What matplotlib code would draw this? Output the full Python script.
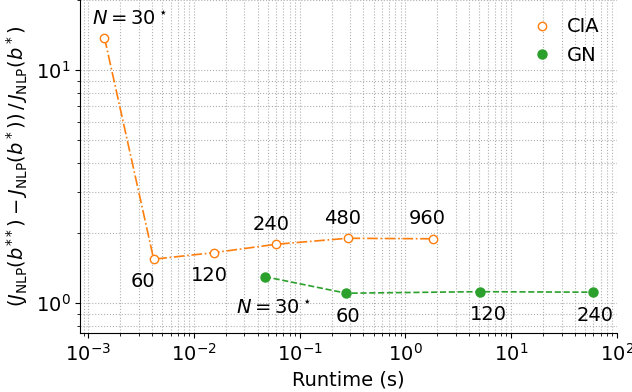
import numpy as np
import matplotlib
matplotlib.use("Agg")
import matplotlib.pyplot as plt
from matplotlib.lines import Line2D
from matplotlib.ticker import NullFormatter

# runtime (s) and relative cost gap for each horizon length N
cia_N = [30, 60, 120, 240, 480, 960]
cia_runtime = [1.42e-3, 4.15e-3, 0.0155, 0.0594, 0.284, 1.82]
cia_gap = [13.8, 1.545, 1.649, 1.79, 1.90, 1.89]

gn_N = [30, 60, 120, 240]
gn_runtime = [0.0468, 0.275, 5.05, 58.9]
gn_gap = [1.30, 1.104, 1.121, 1.115]

# label offsets in points relative to each marker
cia_offsets = [(18, 12.5), (-8, -16), (-3.5, -16.5), (-3.5, 14), (-4, 14), (-4, 14.5)]
gn_offsets = [(6.5, -23.5), (1.5, -17), (6, -16.5), (1.5, -16.5)]

plt.rcParams["font.size"] = 14

fig = plt.figure(figsize=(6.32, 3.92), dpi=100)
ax = fig.add_axes([80 / 632, 1 - 333.3 / 392, 537 / 632, 333.3 / 392])

ax.plot(cia_runtime, cia_gap, "-.", color="tab:orange", lw=1.2,
        marker="o", ms=6, mfc="white", mec="tab:orange")
ax.plot(gn_runtime, gn_gap, "--", color="tab:green", lw=1.2,
        marker="o", ms=6.5)

def label_points(xs, ys, ns, offsets):
    for i, (x, y, n, off) in enumerate(zip(xs, ys, ns, offsets)):
        txt = r"$N = %d^\star$" % n if i == 0 else str(n)
        ax.annotate(txt, (x, y), xytext=off, textcoords="offset points",
                    ha="center", va="center", fontsize=14)

label_points(cia_runtime, cia_gap, cia_N, cia_offsets)
label_points(gn_runtime, gn_gap, gn_N, gn_offsets)

ax.set_xscale("log")
ax.set_yscale("log")
ax.set_xlim(10 ** -3.079, 10 ** 2.001)
ax.set_ylim(0.743, 20.0)
ax.yaxis.set_minor_formatter(NullFormatter())

ax.grid(True, which="both", ls=":", color="#b0b0b0", lw=0.8)
ax.spines["top"].set_visible(False)
ax.spines["right"].set_visible(False)

ax.set_xlabel("Runtime (s)")
ax.set_ylabel(r"$(J_{\mathrm{NLP}}(b^{**}) - J_{\mathrm{NLP}}(b^*))\,/\,J_{\mathrm{NLP}}(b^*)$")

handles = [
    Line2D([], [], ls="none", marker="o", ms=6, color="tab:orange", mfc="white"),
    Line2D([], [], ls="none", marker="o", ms=6.5, color="tab:green"),
]
ax.legend(handles, ["CIA", "GN"], loc="upper right", frameon=False, handlelength=1)

fig.savefig("out.png", dpi=100)
